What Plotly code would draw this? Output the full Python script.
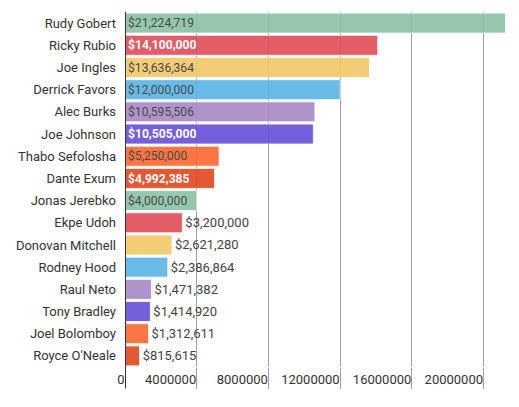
import plotly.graph_objects as go

players = ["Rudy Gobert", "Ricky Rubio", "Joe Ingles", "Derrick Favors", "Alec Burks",
           "Joe Johnson", "Thabo Sefolosha", "Dante Exum", "Jonas Jerebko", "Ekpe Udoh",
           "Donovan Mitchell", "Rodney Hood", "Raul Neto", "Tony Bradley", "Joel Bolomboy",
           "Royce O'Neale"]
salaries = [21224719, 14100000, 13636364, 12000000, 10595506, 10505000, 5250000, 4992385,
            4000000, 3200000, 2621280, 2386864, 1471382, 1414920, 1312611, 815615]
palette = ["#8cc3a6", "#e0505a", "#f1c96a", "#5cb5e6", "#a98cc7", "#6a52da", "#fb6a36", "#e24a22"]
white_label = {"Ricky Rubio", "Joe Johnson", "Dante Exum"}
tick_vals = [0, 4000000, 8000000, 12000000, 16000000, 20000000]

colors = [palette[i % len(palette)] for i in range(len(players))]
labels = []
inside_colors = []
for p, s in zip(players, salaries):
    t = "${:,}".format(s)
    if p in white_label:
        labels.append("<b>" + t + "</b>")
        inside_colors.append("#ffffff")
    else:
        labels.append(t)
        inside_colors.append("#3a3a3a")

fig = go.Figure()
fig.add_trace(go.Bar(
    y=players, x=salaries, orientation="h",
    marker=dict(color=colors, line=dict(color="rgba(255,255,255,0.8)", width=1)),
    opacity=0.92,
    text=labels, textposition="auto", insidetextanchor="start",
    insidetextfont=dict(color=inside_colors, size=13, family="Roboto"),
    outsidetextfont=dict(color="#333333", size=13, family="Roboto"),
    cliponaxis=False, hoverinfo="skip",
))

plot_h = 407 - 12 - 40
tick_len = 21
fig.add_shape(type="line", xref="x", yref="paper", x0=0, x1=0, y0=1, y1=-tick_len / plot_h,
              line=dict(color="#333333", width=2), layer="above")

fig.update_layout(
    width=519, height=407,
    margin=dict(l=125, r=5, t=12, b=40),
    paper_bgcolor="white", plot_bgcolor="white",
    bargap=0.1, showlegend=False,
    font=dict(family="Roboto", size=13, color="#333333"),
    xaxis=dict(range=[0, 21700000], tickvals=tick_vals, tickformat="d",
               showgrid=True, gridcolor="#a0a0a0", gridwidth=1,
               ticks="outside", ticklen=tick_len, tickcolor="#a0a0a0",
               ticklabelposition="outside left", zeroline=False, showline=False,
               tickfont=dict(size=13, color="#333333")),
    yaxis=dict(autorange="reversed", showgrid=False, zeroline=False, showline=False,
               ticks="", ticklabelstandoff=8, tickfont=dict(size=13, color="#333333")),
)

fig.write_html("out.html")
